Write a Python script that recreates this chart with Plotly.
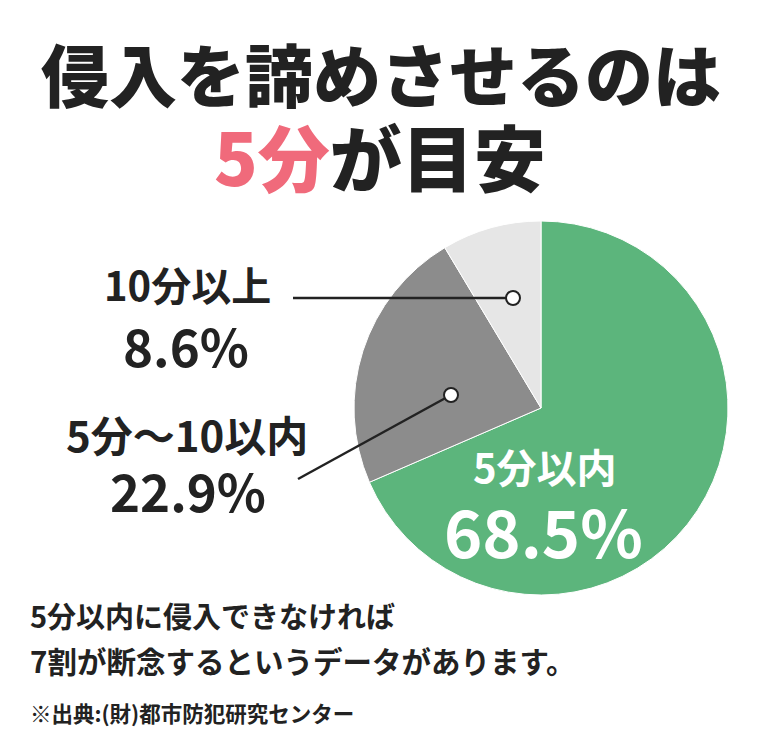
import plotly.graph_objects as go

# ---- data ----
categories = ["5分以内", "5分〜10以内", "10分以上"]
values = [68.5, 22.9, 8.6]
colors = ["#5CB57C", "#8C8C8C", "#E6E6E6"]

W, H = 760, 735
FONT = "Noto Sans CJK JP"
OFF = 8  # page body margin compensation

def px(x, y):
    return (x - OFF) / W, 1 - (y - OFF) / H

# pie geometry (pixels)
cx, cy, R = 541, 408, 187

fig = go.Figure()
x0, y0 = px(cx - R, cy + R)
x1, y1 = px(cx + R, cy - R)
fig.add_trace(go.Pie(
    labels=categories, values=values, sort=False, direction="clockwise",
    rotation=0, textinfo="none", hoverinfo="label+percent",
    marker=dict(colors=colors, line=dict(color="#FFFFFF", width=1)),
    domain=dict(x=[x0, x1], y=[y0, y1]),
    showlegend=False,
))

ann = []
def text(x, y, s, size, color="#222222", weight=700, xanchor="center"):
    xx, yy = px(x, y)
    ann.append(dict(x=xx, y=yy, xref="paper", yref="paper", text=s, showarrow=False,
                    xanchor=xanchor, yanchor="middle",
                    font=dict(family=FONT, size=size, color=color, weight=weight)))

# title
text(381, 72, "侵入を諦めさせるのは", 68, "#222222", 900)
text(380, 155, "<span style='color:#F06A7B'>5分</span>が目安", 72, "#222222", 900)

# labels
text(187, 284, f"{categories[2]}", 40, "#222222", 700)
text(186, 345, f"{values[2]}%", 51, "#222222", 700)
text(187, 433, f"{categories[1]}", 42, "#222222", 700)
text(188, 490, f"{values[1]}%", 51, "#222222", 700)
text(545, 466, f"{categories[0]}", 40, "#FFFFFF", 700)
text(543, 530, f"{values[0]}%", 65, "#FFFFFF", 700)

# bottom notes
text(28, 615, "5分以内に侵入できなければ", 29, "#222222", 700, "left")
text(28, 660, "7割が断念するというデータがあります。", 29.5, "#222222", 700, "left")
text(28, 712, "※出典:(財)都市防犯研究センター", 21.5, "#222222", 700, "left")

shapes = []
def line(xa, ya, xb, yb):
    a = px(xa, ya); b = px(xb, yb)
    shapes.append(dict(type="line", xref="paper", yref="paper", x0=a[0], y0=a[1], x1=b[0], y1=b[1],
                       line=dict(color="#222222", width=2.5)))
def dot(x, y, r=7):
    a = px(x - r, y - r); b = px(x + r, y + r)
    shapes.append(dict(type="circle", xref="paper", yref="paper", x0=a[0], y0=b[1], x1=b[0], y1=a[1],
                       fillcolor="#FFFFFF", line=dict(color="#222222", width=2)))

line(293, 298, 513, 298)
dot(513, 298)
line(298, 479, 451, 395)
dot(451, 395)

fig.update_layout(width=W, height=H, margin=dict(l=0, r=0, t=0, b=0),
                  paper_bgcolor="#FFFFFF", plot_bgcolor="#FFFFFF",
                  annotations=ann, shapes=shapes)
fig.write_html("out.html")
